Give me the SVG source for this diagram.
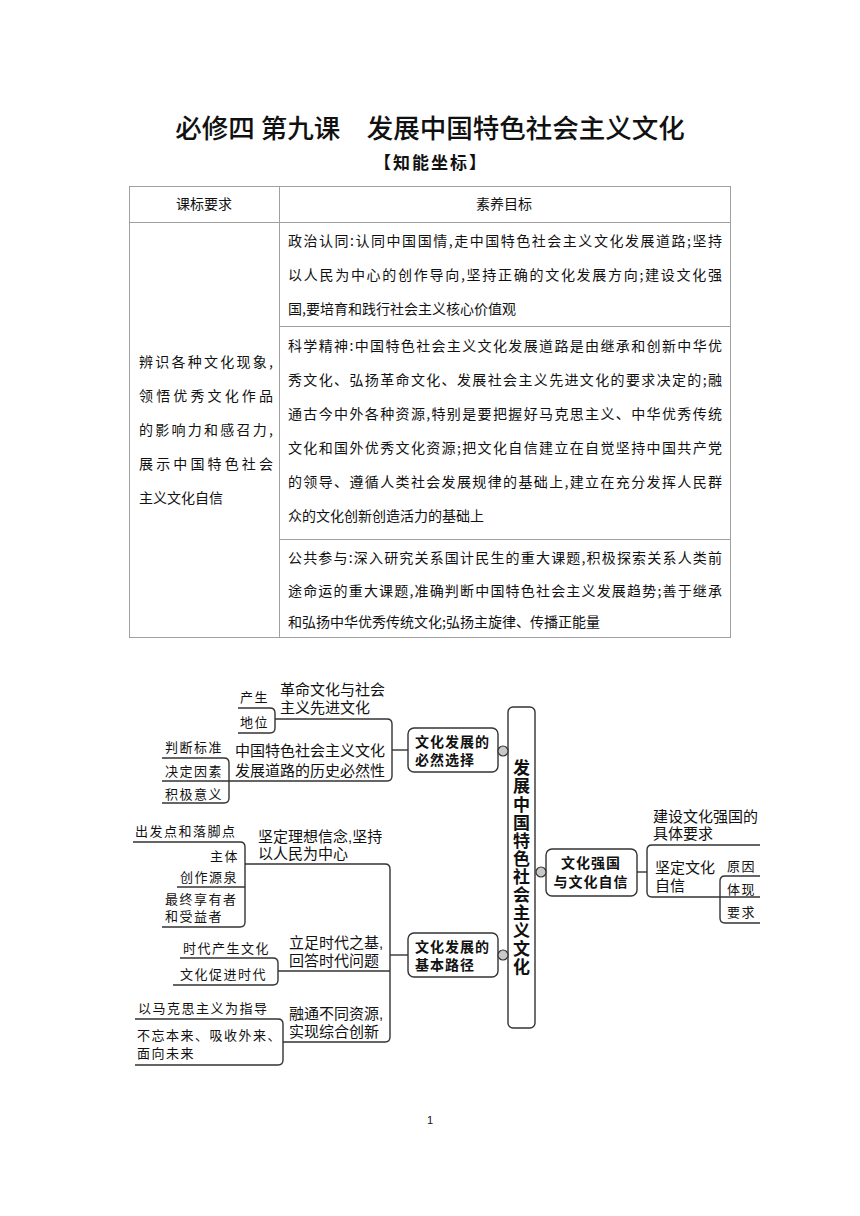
<svg xmlns="http://www.w3.org/2000/svg" width="860" height="1216" viewBox="0 0 860 1216">
<style>
text{font-family:"Noto Sans CJK SC","Liberation Sans",sans-serif;fill:#111}
.title{font-size:26.5px;font-weight:500}
.sub{font-size:17px;font-weight:700;letter-spacing:2px}
.tb{font-size:14px}
.grid{stroke:#a0a0a0;stroke-width:1;fill:none}
.br{stroke:#333;stroke-width:1.4;fill:none}
.box{stroke:#333;stroke-width:1.4;fill:#fff}
.dot{stroke:#333;stroke-width:1.2;fill:#c8c8c8}
.m,.lb,.nd{font-family:"Liberation Sans","Noto Sans CJK SC",sans-serif}
.m{font-size:15px}
.lb{font-size:13px;letter-spacing:1.5px}
.nd{font-size:14px;font-weight:700;letter-spacing:1px}
.ctr{font-size:17px;font-weight:700;letter-spacing:1.1px}
</style>
<rect width="860" height="1216" fill="#fff"/>
<text class="title" x="430" y="138" text-anchor="middle">必修四 第九课　发展中国特色社会主义文化</text>
<text class="sub" x="431" y="169" text-anchor="middle">【知能坐标】</text>

<g id="table">
<rect class="grid" x="129.5" y="186.5" width="601" height="451"/>
<line class="grid" x1="129.5" y1="222.5" x2="730.5" y2="222.5"/>
<line class="grid" x1="279.5" y1="186.5" x2="279.5" y2="637.5"/>
<line class="grid" x1="279.5" y1="326.5" x2="730.5" y2="326.5"/>
<line class="grid" x1="279.5" y1="539.5" x2="730.5" y2="539.5"/>
<text class="tb" x="204" y="209" text-anchor="middle">课标要求</text>
<text class="tb" x="504" y="209" text-anchor="middle">素养目标</text>
<text class="tb" x="288" y="246" textLength="434" lengthAdjust="spacing">政治认同:认同中国国情,走中国特色社会主义文化发展道路;坚持</text>
<text class="tb" x="288" y="280" textLength="434" lengthAdjust="spacing">以人民为中心的创作导向,坚持正确的文化发展方向;建设文化强</text>
<text class="tb" x="288" y="314">国,要培育和践行社会主义核心价值观</text>
<text class="tb" x="288" y="351" textLength="434" lengthAdjust="spacing">科学精神:中国特色社会主义文化发展道路是由继承和创新中华优</text>
<text class="tb" x="288" y="385" textLength="434" lengthAdjust="spacing">秀文化、弘扬革命文化、发展社会主义先进文化的要求决定的;融</text>
<text class="tb" x="288" y="419" textLength="434" lengthAdjust="spacing">通古今中外各种资源,特别是要把握好马克思主义、中华优秀传统</text>
<text class="tb" x="288" y="453" textLength="434" lengthAdjust="spacing">文化和国外优秀文化资源;把文化自信建立在自觉坚持中国共产党</text>
<text class="tb" x="288" y="487" textLength="434" lengthAdjust="spacing">的领导、遵循人类社会发展规律的基础上,建立在充分发挥人民群</text>
<text class="tb" x="288" y="521">众的文化创新创造活力的基础上</text>
<text class="tb" x="288" y="563" textLength="434" lengthAdjust="spacing">公共参与:深入研究关系国计民生的重大课题,积极探索关系人类前</text>
<text class="tb" x="288" y="596" textLength="434" lengthAdjust="spacing">途命运的重大课题,准确判断中国特色社会主义发展趋势;善于继承</text>
<text class="tb" x="288" y="627">和弘扬中华优秀传统文化;弘扬主旋律、传播正能量</text>
<text class="tb" x="139" y="367" textLength="134" lengthAdjust="spacing">辨识各种文化现象,</text>
<text class="tb" x="139" y="401" textLength="134" lengthAdjust="spacing">领悟优秀文化作品</text>
<text class="tb" x="139" y="435" textLength="134" lengthAdjust="spacing">的影响力和感召力,</text>
<text class="tb" x="139" y="469" textLength="134" lengthAdjust="spacing">展示中国特色社会</text>
<text class="tb" x="139" y="503">主义文化自信</text>
</g>

<g id="connectors">
<path class="br" d="M275 719 H387 Q392 719 392 724 V776 Q392 781 387 781 H162"/>
<line class="br" x1="392" y1="750" x2="408" y2="750"/>
<path class="br" d="M238 708 H270 Q275 708 275 713 V728 Q275 733 270 733 H238"/>
<path class="br" d="M162 758 H224 Q229 758 229 763 V798 Q229 803 224 803 H162"/>
<path class="br" d="M245 864 H385 Q390 864 390 869 V1037 Q390 1042 385 1042 H283"/>
<line class="br" x1="278" y1="971" x2="390" y2="971"/>
<line class="br" x1="390" y1="955" x2="408" y2="955"/>
<path class="br" d="M133 842 H240 Q245 842 245 847 V922 Q245 927 240 927 H162"/>
<line class="br" x1="177" y1="887" x2="245" y2="887"/>
<path class="br" d="M180 958 H273 Q278 958 278 963 V980 Q278 985 273 985 H173"/>
<path class="br" d="M135 1019 H278 Q283 1019 283 1024 V1060 Q283 1065 278 1065 H135"/>
<line class="br" x1="637" y1="872" x2="647" y2="872"/>
<path class="br" d="M760 845 H652 Q647 845 647 850 V892 Q647 897 652 897 H760"/>
<path class="br" d="M760 876 H725 Q720 876 720 881 V918 Q720 923 725 923 H760"/>
</g>

<g id="center">
<rect class="box" x="508" y="707" width="27" height="321" rx="5"/>
<text class="ctr" x="521.5" y="868" text-anchor="middle" writing-mode="vertical-rl">发展中国特色社会主义文化</text>
</g>

<g id="node-choice">
<rect class="box" x="408" y="728" width="90" height="44" rx="6"/>
<circle class="dot" cx="503" cy="751" r="5"/>
<text class="nd" x="415" y="747">文化发展的<tspan x="415" dy="18">必然选择</tspan></text>
</g>

<g id="node-path">
<rect class="box" x="408" y="933" width="90" height="44" rx="6"/>
<circle class="dot" cx="503" cy="955" r="5"/>
<text class="nd" x="415" y="952">文化发展的<tspan x="415" dy="18">基本路径</tspan></text>
</g>

<g id="node-confidence">
<rect class="box" x="546" y="849" width="91" height="47" rx="6"/>
<circle class="dot" cx="541" cy="872" r="5"/>
<text class="nd" x="591" y="868" text-anchor="middle">文化强国<tspan x="591" dy="19">与文化自信</tspan></text>
</g>

<g id="branch-choice">
<text class="m" x="280" y="695">革命文化与社会<tspan x="280" dy="18">主义先进文化</tspan></text>
<text class="m" x="235" y="756">中国特色社会主义文化<tspan x="235" dy="20">发展道路的历史必然性</tspan></text>
<text class="lb" x="240" y="702">产生</text>
<text class="lb" x="240" y="727">地位</text>
<text class="lb" x="165" y="752">判断标准</text>
<text class="lb" x="165" y="776">决定因素</text>
<text class="lb" x="165" y="799">积极意义</text>
</g>

<g id="branch-path">
<text class="m" x="258" y="842">坚定理想信念,坚持<tspan x="258" dy="17">以人民为中心</tspan></text>
<text class="m" x="289" y="948">立足时代之基,<tspan x="289" dy="18">回答时代问题</tspan></text>
<text class="m" x="289" y="1019">融通不同资源,<tspan x="289" dy="18">实现综合创新</tspan></text>
<text class="lb" x="135" y="836">出发点和落脚点</text>
<text class="lb" x="210" y="861">主体</text>
<text class="lb" x="180" y="882">创作源泉</text>
<text class="lb" x="165" y="904">最终享有者<tspan x="165" dy="17">和受益者</tspan></text>
<text class="lb" x="183" y="953">时代产生文化</text>
<text class="lb" x="180" y="979">文化促进时代</text>
<text class="lb" x="138" y="1013">以马克思主义为指导</text>
<text class="lb" x="137" y="1040" letter-spacing="0">不忘本来、吸收外来、<tspan x="137" dy="18">面向未来</tspan></text>
</g>

<g id="branch-confidence">
<text class="m" x="653" y="822">建设文化强国的<tspan x="653" dy="17">具体要求</tspan></text>
<text class="m" x="655" y="873">坚定文化<tspan x="655" dy="18">自信</tspan></text>
<text class="lb" x="727" y="871">原因</text>
<text class="lb" x="727" y="894">体现</text>
<text class="lb" x="727" y="917">要求</text>
</g>

<text x="430" y="1124" text-anchor="middle" style="font-family:'Liberation Sans',sans-serif;font-size:11px">1</text>
</svg>
